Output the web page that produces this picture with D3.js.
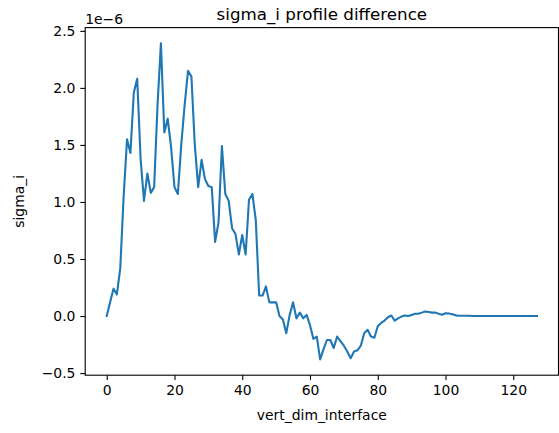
<!DOCTYPE html>
<html>
<head>
<meta charset="utf-8">
<script src="https://cdn.jsdelivr.net/npm/d3@7"></script>
<style>
  html, body { margin: 0; padding: 0; background: #fff; }
  svg { display: block; font-family: "DejaVu Sans", sans-serif; }
</style>
</head>
<body>
<svg id="chart" width="559" height="433"></svg>
<script>
// Data (values in units of 1e-6)
const xValues = d3.range(0, 128);
const sigmaValues = [
  0.00, 0.12, 0.24, 0.19, 0.42, 1.05, 1.55, 1.43, 1.96, 2.08,
  1.38, 1.01, 1.25, 1.08, 1.13, 1.85, 2.39, 1.61, 1.73, 1.48,
  1.13, 1.07, 1.50, 1.85, 2.15, 2.10, 1.50, 1.13, 1.37, 1.20,
  1.14, 1.13, 0.65, 0.82, 1.49, 1.07, 1.01, 0.77, 0.72, 0.54,
  0.71, 0.54, 1.02, 1.07, 0.84, 0.18, 0.18, 0.26, 0.12, 0.12,
  0.12, 0.00, -0.03, -0.15, 0.01, 0.12, -0.02, 0.03, -0.02, 0.01,
  -0.08, -0.20, -0.18, -0.38, -0.29, -0.21, -0.21, -0.28, -0.18, -0.22,
  -0.26, -0.31, -0.37, -0.31, -0.30, -0.26, -0.15, -0.12, -0.18, -0.19,
  -0.09, -0.06, -0.04, -0.01, 0.005, -0.04, -0.02, -0.005, 0.005, 0.00,
  0.01, 0.02, 0.02, 0.03, 0.04, 0.035, 0.03, 0.03, 0.02, 0.012,
  0.025, 0.022, 0.015, 0.006, 0.003, 0.002, 0.002, 0.002, 0.001, 0.001,
  0.001, 0.001, 0.001, 0.001, 0.001, 0.001, 0.001, 0.001, 0.001, 0.001,
  0.001, 0.001, 0.001, 0.001, 0.001, 0.001, 0.001, 0.001
];
const xTicks = [0, 20, 40, 60, 80, 100, 120];
const yTicks = [-0.5, 0.0, 0.5, 1.0, 1.5, 2.0, 2.5];
const titleText = "sigma_i profile difference";
const xLabelText = "vert_dim_interface";
const yLabelText = "sigma_i";
const offsetText = "1e\u22126";

const svg = d3.select("#chart");
const plotLeft = 85.2, plotRight = 558.5, plotTop = 27.6, plotBottom = 375.2;

const xMin = d3.min(xValues), xMax = d3.max(xValues);
const xPad = (xMax - xMin) * 0.05;
const yMin = d3.min(sigmaValues), yMax = d3.max(sigmaValues);
const yPad = (yMax - yMin) * 0.05;

const x = d3.scaleLinear().domain([xMin - xPad, xMax + xPad]).range([plotLeft, plotRight]);
const y = d3.scaleLinear().domain([yMin - yPad, yMax + yPad]).range([plotBottom, plotTop]);

const fmtY = d => d.toFixed(1).replace("-", "\u2212");

// x axis
const xAxis = svg.append("g")
  .attr("transform", `translate(0,${plotBottom})`)
  .call(d3.axisBottom(x).tickValues(xTicks).tickSize(4.9).tickPadding(4.9).tickFormat(d3.format("d")));
xAxis.select(".domain").remove();
xAxis.selectAll("line").attr("stroke", "#000").attr("stroke-width", 1.1);
xAxis.selectAll("text").attr("font-size", "13.9px").attr("fill", "#000")
  .attr("font-family", "DejaVu Sans, sans-serif");

// y axis
const yAxis = svg.append("g")
  .attr("transform", `translate(${plotLeft},0)`)
  .call(d3.axisLeft(y).tickValues(yTicks).tickSize(4.9).tickPadding(4.9).tickFormat(fmtY));
yAxis.select(".domain").remove();
yAxis.selectAll("line").attr("stroke", "#000").attr("stroke-width", 1.1);
yAxis.selectAll("text").attr("font-size", "13.9px").attr("fill", "#000")
  .attr("font-family", "DejaVu Sans, sans-serif");

// line
const line = d3.line().x((d, i) => x(xValues[i])).y(d => y(d));
svg.append("path")
  .datum(sigmaValues)
  .attr("d", line)
  .attr("fill", "none")
  .attr("stroke", "#1f77b4")
  .attr("stroke-width", 2.1)
  .attr("stroke-linejoin", "round")
  .attr("stroke-linecap", "square");

// frame
svg.append("rect")
  .attr("x", plotLeft).attr("y", plotTop)
  .attr("width", plotRight - plotLeft).attr("height", plotBottom - plotTop)
  .attr("fill", "none").attr("stroke", "#000").attr("stroke-width", 1.1);

// title
svg.append("text")
  .attr("x", (plotLeft + plotRight) / 2).attr("y", 20)
  .attr("text-anchor", "middle").attr("font-size", "16.7px").attr("fill", "#000")
  .text(titleText);

// offset text
svg.append("text")
  .attr("x", plotLeft).attr("y", 23.5)
  .attr("font-size", "13.9px").attr("fill", "#000")
  .text(offsetText);

// x label
svg.append("text")
  .attr("x", (plotLeft + plotRight) / 2).attr("y", 420)
  .attr("text-anchor", "middle").attr("font-size", "13.9px").attr("fill", "#000")
  .text(xLabelText);

// y label
svg.append("text")
  .attr("transform", `translate(23.5,${(plotTop + plotBottom) / 2}) rotate(-90)`)
  .attr("text-anchor", "middle").attr("font-size", "13.9px").attr("fill", "#000")
  .text(yLabelText);
</script>
</body>
</html>
